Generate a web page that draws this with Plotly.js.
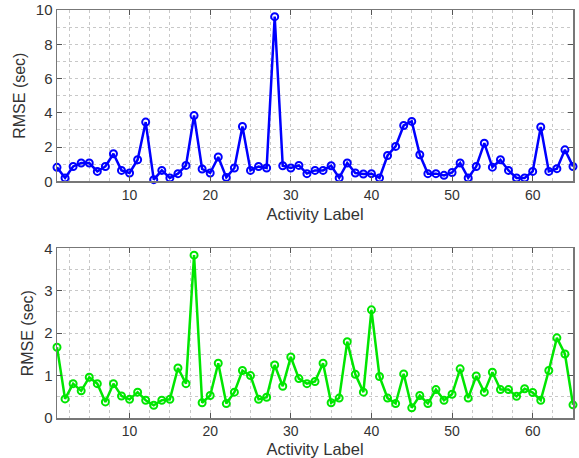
<!DOCTYPE html>
<html>
<head>
<meta charset="utf-8">
<script src="https://cdn.plot.ly/plotly-3.0.1.min.js"></script>
<style>html,body{margin:0;padding:0;background:#fff;}#chart{width:579px;height:458px;}</style>
</head>
<body>
<div id="chart"></div>
<script>
const activityLabels = Array.from({length: 65}, (_, i) => i + 1);
const rmseTop = [0.82,0.2,0.87,1.07,1.07,0.58,0.87,1.61,0.64,0.49,
                 1.26,3.46,0.1,0.64,0.2,0.45,0.93,3.84,0.72,0.49,
                 1.42,0.23,0.78,3.2,0.64,0.87,0.78,9.61,0.91,0.78,
                 0.93,0.45,0.64,0.64,0.91,0.2,1.07,0.49,0.43,0.45,
                 0.2,1.51,2.04,3.26,3.5,1.55,0.45,0.45,0.35,0.52,
                 1.07,0.2,0.87,2.23,0.83,1.26,0.64,0.2,0.2,0.58,
                 3.17,0.58,0.74,1.84,0.87];
const rmseBottom = [1.67,0.45,0.81,0.64,0.96,0.81,0.38,0.81,0.52,0.44,
                    0.61,0.42,0.3,0.42,0.44,1.18,0.81,3.84,0.36,0.53,
                    1.29,0.34,0.61,1.12,1.0,0.44,0.49,1.25,0.75,1.44,
                    0.93,0.81,0.86,1.29,0.36,0.47,1.8,1.03,0.61,2.55,
                    0.98,0.47,0.34,1.04,0.24,0.53,0.34,0.67,0.42,0.56,
                    1.16,0.47,0.99,0.61,1.08,0.67,0.67,0.51,0.69,0.6,
                    0.42,1.12,1.89,1.51,0.31];
const xTickVals = [10, 20, 30, 40, 50, 60];
const xTitle = "Activity Label";
const yTitle = "RMSE (sec)";

const fontFam = "Liberation Sans, Arial, sans-serif";
const txtColor = "#333333";
const gridColor = "#c8c8c8";

function xAxis(anchor) {
  return {
    anchor: anchor, range: [1, 65], tickvals: xTickVals, ticks: "inside", ticklen: 5,
    tickcolor: "#555", showline: true, linecolor: "#777", linewidth: 1.5, mirror: "ticks",
    showgrid: true, gridcolor: gridColor, griddash: "dot", gridwidth: 1, zeroline: false,
    minor: {dtick: 2.5, tick0: 0, showgrid: true, gridcolor: gridColor, griddash: "dot", gridwidth: 1, ticks: ""},
    tickfont: {family: fontFam, size: 14, color: txtColor},
    title: {text: xTitle, font: {family: fontFam, size: 16.5, color: txtColor}, standoff: 7},
    automargin: false
  };
}
function yAxis(anchor, domain, range, dtick, minorDtick) {
  return {
    anchor: anchor, domain: domain, range: range, dtick: dtick, tick0: 0, ticks: "inside", ticklen: 5,
    tickcolor: "#555", showline: true, linecolor: "#777", linewidth: 1.5, mirror: "ticks",
    showgrid: true, gridcolor: gridColor, griddash: "dot", gridwidth: 1, zeroline: false,
    minor: {dtick: minorDtick, tick0: 0, showgrid: true, gridcolor: gridColor, griddash: "dot", gridwidth: 1, ticks: ""},
    tickfont: {family: fontFam, size: 15, color: txtColor},
    title: {text: yTitle, font: {family: fontFam, size: 16, color: txtColor}, standoff: 6},
    automargin: false
  };
}

const traces = [
  {x: activityLabels, y: rmseTop, xaxis: "x", yaxis: "y", mode: "lines+markers",
   line: {color: "#0000ff", width: 2.5}, marker: {symbol: "circle-open", size: 7, color: "#0000ff", line: {width: 2}},
   cliponaxis: false, showlegend: false},
  {x: activityLabels, y: rmseBottom, xaxis: "x2", yaxis: "y2", mode: "lines+markers",
   line: {color: "#00e600", width: 2.5}, marker: {symbol: "circle-open", size: 7, color: "#00e600", line: {width: 2}},
   cliponaxis: false, showlegend: false}
];

const layout = {
  width: 579, height: 458,
  margin: {l: 57, r: 6, t: 10, b: 40},
  paper_bgcolor: "#ffffff", plot_bgcolor: "#ffffff",
  font: {family: fontFam, color: txtColor},
  xaxis: xAxis("y"),
  yaxis: yAxis("x", [0.58, 1], [0, 10], 2, 1),
  xaxis2: xAxis("y2"),
  yaxis2: yAxis("x2", [0, 0.4157], [0, 4], 1, 0.5)
};

Plotly.newPlot("chart", traces, layout, {displayModeBar: false, staticPlot: true});
</script>
</body>
</html>
